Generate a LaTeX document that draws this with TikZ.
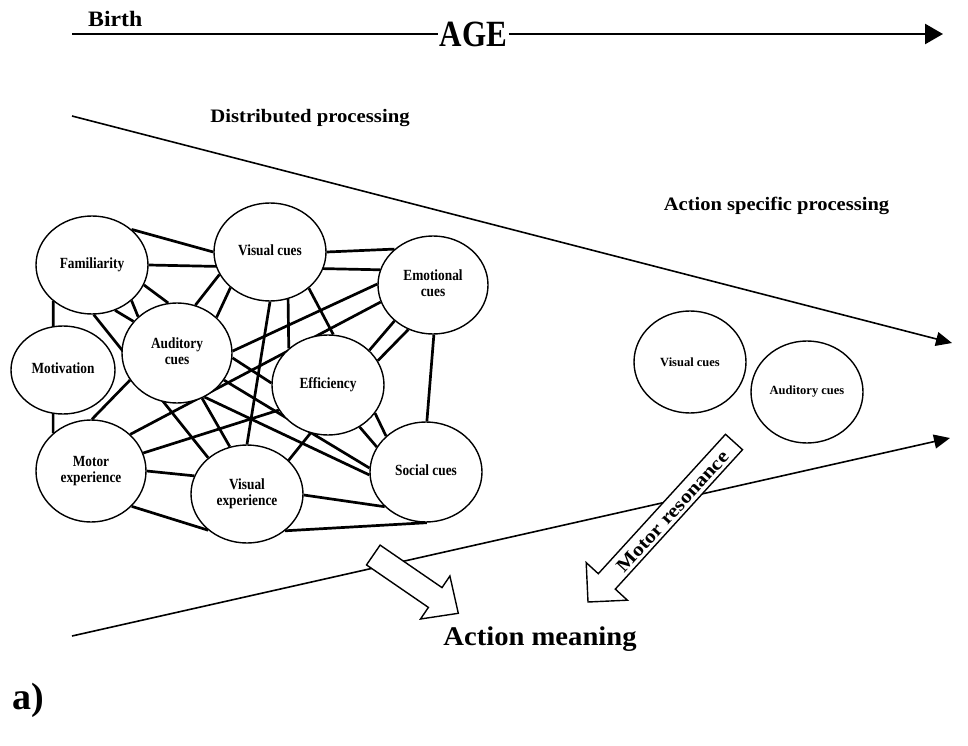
\documentclass[tikz,border=0pt]{standalone}
\usepackage{fontspec}
\setmainfont{Liberation Serif}
\usepackage{graphicx}
\usetikzlibrary{shapes.geometric,arrows.meta,backgrounds}
\newcommand\cn[1]{\scalebox{0.86}[1]{\begin{tabular}{@{}c@{}}#1\end{tabular}}}
\tikzset{
  cue/.style={ellipse, draw, line width=1.4pt, fill=white, inner sep=0pt,
    font=\fontsize{15.5}{16.5}\selectfont\bfseries},
  rcue/.style={cue, font=\fontsize{12.5}{14}\selectfont\bfseries},
  link/.style={line width=2.7pt},
  funnel/.style={line width=1.6pt, -{Triangle[length=16pt,width=14pt]}},
  blockarrow/.style={draw, line width=1.4pt, fill=white, line join=miter},
  heading/.style={font=\fontsize{19}{21}\selectfont\bfseries, inner sep=0pt, anchor=base},
  ageline/.style={line width=2.6pt},
}
\begin{document}
\begin{tikzpicture}[x=1pt,y=-1pt]
\useasboundingbox (0,0) rectangle (968,746);

% ---- age axis ----
\node[heading, anchor=base west, font=\fontsize{22}{24}\selectfont\bfseries] (birth) at (88,27) {\scalebox{1.08}[1]{Birth}};
\node[inner sep=1.5pt, font=\fontsize{37}{40}\selectfont\bfseries] (age) at (473.5,34) {\scalebox{0.84}[1]{AGE}};
\coordinate (agestart) at (72,34);
\coordinate (agetip) at (943,34);
\draw[ageline] (agestart) -- (age.west);
\draw[ageline, -{Triangle[length=18pt,width=20pt]}] (age.east) -- (agetip);

% ---- headings ----
\node[heading] (dist) at (310,123) {\scalebox{1.09}[1]{Distributed processing}};
\node[heading] (spec) at (776.5,210) {\scalebox{1.08}[1]{Action specific processing}};

% ---- funnel ----
\coordinate (ftop0) at (72,116);
\coordinate (ftop1) at (952,343);
\coordinate (fbot0) at (72,636);
\coordinate (fbot1) at (950,438);
\draw[funnel] (ftop0) -- (ftop1);
\draw[funnel] (fbot0) -- (fbot1);

% ---- distributed network ----
\node[cue, minimum width=112pt, minimum height=98pt] (fam) at (92,265) {\cn{Familiarity}};
\node[cue, minimum width=112pt, minimum height=98pt] (vc) at (270,252) {\cn{Visual cues}};
\node[cue, minimum width=110pt, minimum height=98pt] (emo) at (433,285) {\cn{Emotional\\cues}};
\node[cue, minimum width=104pt, minimum height=88pt] (mot) at (63,370) {\cn{Motivation}};
\node[cue, minimum width=110pt, minimum height=100pt] (aud) at (177,353) {\cn{Auditory\\cues}};
\node[cue, minimum width=112pt, minimum height=100pt] (eff) at (328,385) {\cn{Efficiency}};
\node[cue, minimum width=110pt, minimum height=102pt] (motor) at (91,471) {\cn{Motor\\experience}};
\node[cue, minimum width=112pt, minimum height=98pt] (vexp) at (247,494) {\cn{Visual\\experience}};
\node[cue, minimum width=112pt, minimum height=100pt] (soc) at (426,472) {\cn{Social cues}};

\begin{pgfonlayer}{background}
\draw[link] (fam.42) -- (vc.180);
\draw[link] (fam.0) -- (emo.164);
\draw[link] (vc.0) -- (emo.137);
\draw[link] (fam.-21) -- (aud.100);
\draw[link] (fam.-42) -- (aud.137);
\draw[link] (fam.-63) -- (aud.144);
\draw[link] (fam.-88) -- (vexp.137);
\draw[link] (fam.223) -- (motor.135);
\draw[link] (vc.204) -- (aud.69);
\draw[link] (vc.222) -- (aud.42);
\draw[link] (vc.-90) -- (vexp.90);
\draw[link] (vc.-69) -- (eff.137);
\draw[link] (vc.-43) -- (eff.84);
\draw[link] (emo.179) -- (aud.2);
\draw[link] (emo.198) -- (motor.43);
\draw[link] (eff.207) -- (motor.19);
\draw[link] (emo.223) -- (eff.40);
\draw[link] (emo.241) -- (eff.26);
\draw[link] (eff.-31) -- (soc.138);
\draw[link] (eff.-53) -- (soc.153);
\draw[link] (emo.-89) -- (soc.89);
\draw[link] (aud.210) -- (motor.89);
\draw[link] (aud.-61) -- (vexp.110);
\draw[link] (aud.-30) -- (soc.176);
\draw[link] (aud.-58) -- (soc.183);
\draw[link] (aud.-5) -- (eff.178);
\draw[link] (eff.-110) -- (vexp.39);
\draw[link] (motor.0) -- (vexp.161);
\draw[link] (motor.-41) -- (vexp.223);
\draw[link] (vexp.-1) -- (soc.220);
\draw[link] (vexp.-44) -- (soc.-89);
\end{pgfonlayer}

% ---- action specific cues ----
\node[rcue, minimum width=112pt, minimum height=102pt] (rvc) at (690,362) {Visual cues};
\node[rcue, minimum width=112pt, minimum height=102pt] (raud) at (807,392) {Auditory cues};

% ---- block arrows ----
\draw[blockarrow] (366.5,564.9) -- (428.4,607.4) -- (420.5,619) -- (458.3,613.3)
  -- (449.9,576) -- (442,587.6) -- (380.1,545.1) -- cycle;
\draw[blockarrow] (742.5,449.7) -- (615.3,589.1) -- (627.4,600.2) -- (588,602)
  -- (586.2,562.6) -- (598.3,573.7) -- (725.5,434.3) -- cycle;
\node[font=\fontsize{19}{21}\selectfont\bfseries, rotate=47.6, inner sep=0pt] (motres) at (672.5,511.5) {\scalebox{1.14}[1]{Motor resonance}};

% ---- bottom texts ----
\node[font=\fontsize{27}{30}\selectfont\bfseries, anchor=base, inner sep=0pt] (meaning) at (540,645) {\scalebox{1.06}[1]{Action meaning}};
\node[font=\fontsize{38}{40}\selectfont\bfseries, anchor=base west, inner sep=0pt] (panel) at (12,709) {a)};
\end{tikzpicture}
\end{document}
